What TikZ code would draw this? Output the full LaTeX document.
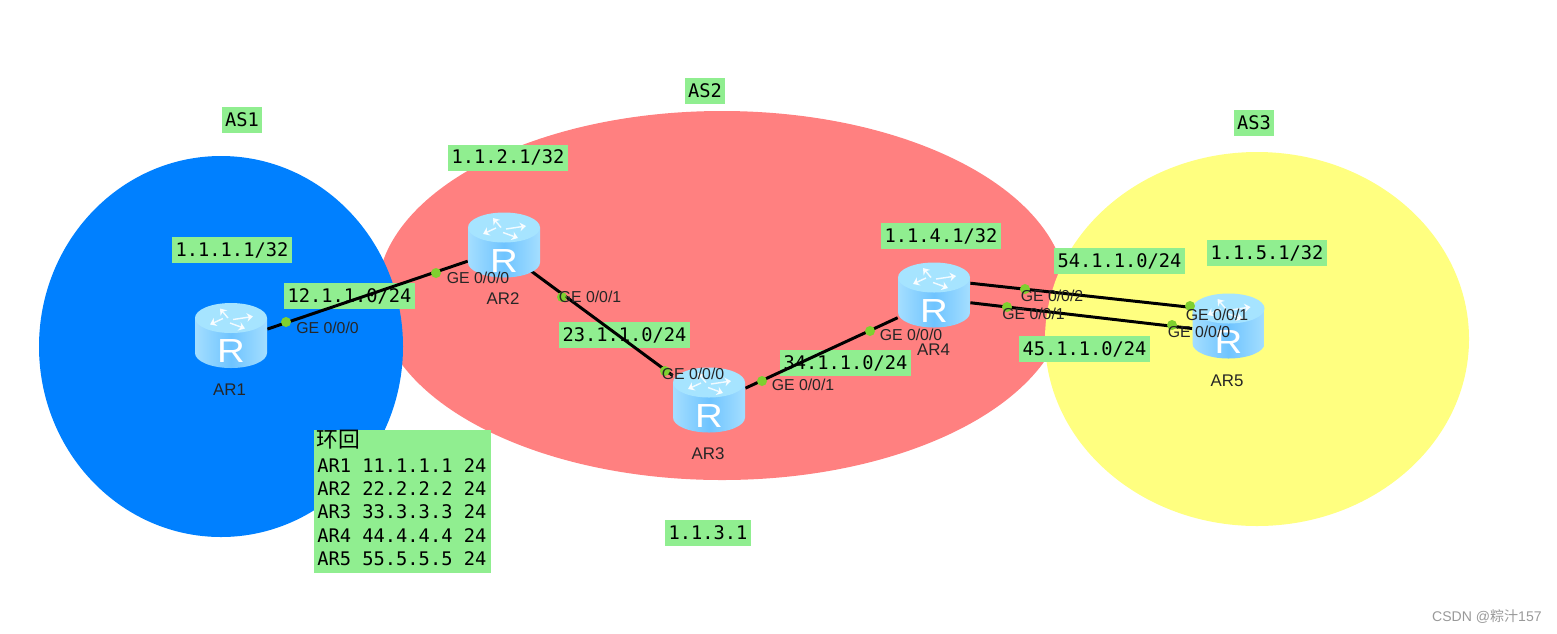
\documentclass[tikz,border=0pt]{standalone}
\usepackage{fontspec}
\setmainfont{Liberation Sans}
\setmonofont{DejaVu Sans Mono}
\newfontfamily\cjk{Noto Sans CJK SC}
\usetikzlibrary{arrows.meta}
\definecolor{labelgreen}{HTML}{90EE90}
\definecolor{dotgreen}{HTML}{7FD02F}
\definecolor{as1blue}{HTML}{0080FF}
\definecolor{as2red}{HTML}{FF8080}
\definecolor{as3yellow}{HTML}{FFFF80}
\definecolor{routertop}{HTML}{A6E4FF}
\definecolor{routerside}{HTML}{6FC4FF}
\definecolor{routerlight}{HTML}{A4DEFF}
\tikzset{
	netlabel/.style={fill=labelgreen, inner sep=0pt, minimum height=26*0.02cm, font=\ttfamily\fontsize{10.65}{10.65}\selectfont},
	portname/.style={inner sep=0pt, text=black!85, font=\fontsize{9}{9}\selectfont},
	routername/.style={inner sep=0pt, text=black!85, font=\fontsize{9.6}{9.6}\selectfont},
	routerbox/.style={inner sep=0pt, minimum width=72*0.02cm, minimum height=65*0.02cm},
	link/.style={line width=1.7pt, black},
	portdot/.style={dotgreen, radius=5},
	routerarrow/.style={white, line width=0.8pt, opacity=0.85, -{Stealth[length=3.5pt,width=5pt]}}
}
\def\drawrouter(#1,#2){
	\begin{scope}[shift={(#1,#2)}]
		\shade[left color=routerlight, right color=routerlight, middle color=routerside] (-36,-17.5) -- (-36,17.5) arc (180:360:36 and -15) -- (36,-17.5) -- cycle;
		\fill[routertop] (0,-17.5) ellipse (36 and 15);
		\draw[routerarrow] (-3,-17.5) -- (-11,-27);
		\draw[routerarrow] (-8,-17) -- (-21,-11);
		\draw[routerarrow] (2,-16) -- (22,-19);
		\draw[routerarrow] (-1,-12.5) -- (14,-7);
		\node[inner sep=0pt, text=white, xscale=1.15, font=\fontsize{19}{19}\selectfont] at (0,16) {R};
	\end{scope}
}

\begin{document}
\begin{tikzpicture}[x=0.02cm, y=-0.02cm]
	\useasboundingbox (0,0) rectangle (1557,633);

	% autonomous systems
	\fill[as2red] (722,295.5) ellipse (345 and 184.5);
	\fill[as1blue] (221,346.5) ellipse (182 and 190.5);
	\fill[as3yellow] (1257,339) ellipse (212 and 187);

	% labels under the links
	\node[netlabel, minimum width=40*0.02cm] (as1) at (242,120) {AS1};
	\node[netlabel, minimum width=40*0.02cm] (as2) at (705,91) {AS2};
	\node[netlabel, minimum width=40*0.02cm] (as3) at (1254,123) {AS3};
	\node[netlabel, minimum width=120*0.02cm] (net112) at (508,157.5) {1.1.2.1/32};
	\node[netlabel, minimum width=120*0.02cm] (net111) at (232,250) {1.1.1.1/32};
	\node[netlabel, minimum width=120*0.02cm] (net114) at (941,236) {1.1.4.1/32};
	\node[netlabel, minimum width=120*0.02cm] (net115) at (1267,253) {1.1.5.1/32};
	\node[netlabel, minimum width=86*0.02cm] (net113) at (708,533) {1.1.3.1};
	\node[netlabel, minimum width=131*0.02cm] (net12) at (349.5,296) {12.1.1.0/24};
	\node[netlabel, minimum width=131*0.02cm] (net23) at (624.5,335) {23.1.1.0/24};
	\node[netlabel, minimum width=131*0.02cm] (net34) at (845.5,363) {34.1.1.0/24};
	\node[netlabel, minimum width=131*0.02cm] (net54) at (1119.5,261) {54.1.1.0/24};
	\node[netlabel, minimum width=131*0.02cm] (net45) at (1084.5,349) {45.1.1.0/24};

	% loopback table
	\fill[labelgreen] (314,430) rectangle (491,573);
	\node[inner sep=0pt, anchor=west, font=\cjk\fontsize{12.4}{12.4}\selectfont] (loophead) at (316,440) {环回};
	\foreach \row/\rowtext in {466/AR1 11.1.1.1 24, 489/AR2 22.2.2.2 24, 512/AR3 33.3.3.3 24, 535.5/AR4 44.4.4.4 24, 558.5/AR5 55.5.5.5 24}
		\node[inner sep=0pt, anchor=west, font=\ttfamily\fontsize{10.65}{10.65}\selectfont] at (317,\row) {\rowtext};

	% routers
	\node[routerbox] (ar1) at (231,335.5) {};
	\node[routerbox] (ar2) at (504,245) {};
	\node[routerbox] (ar3) at (709,400) {};
	\node[routerbox] (ar4) at (934,295) {};
	\node[routerbox] (ar5) at (1228.5,326) {};

	% links
	\draw[link] (ar1.10) -- (ar2.204);
	\draw[link, shorten <=-0.4cm] (ar2.south east) -- (ar3.146);
	\draw[link] (ar3.18) -- (ar4.212.6);
	\draw[link] (ar4.18.4) -- (ar5.153);
	\draw[link] (ar4.-12.5) -- (ar5.184.8);

	\drawrouter(231,335.5)
	\drawrouter(504,245)
	\drawrouter(709,400)
	\drawrouter(934,295)
	\drawrouter(1228.5,326)

	\node[routername] (name1) at (229.5,390) {AR1};
	\node[routername] (name2) at (503,299) {AR2};
	\node[routername] (name3) at (708,454) {AR3};
	\node[routername] (name4) at (933.5,350) {AR4};
	\node[routername] (name5) at (1227,381) {AR5};

	% ports
	\foreach \dotx/\doty in {286/322, 436/273, 562/297, 665/371, 762/381, 870/331, 1025/289, 1007/307, 1190/306, 1172/325}
		\fill[portdot] (\dotx,\doty) circle;

	\node[portname] (p1) at (327.5,328) {GE 0/0/0};
	\node[portname] (p2) at (478,278) {GE 0/0/0};
	\node[portname] (p3) at (590,297) {GE 0/0/1};
	\node[portname] (p4) at (693,374) {GE 0/0/0};
	\node[portname] (p5) at (803,385) {GE 0/0/1};
	\node[portname] (p6) at (911,335) {GE 0/0/0};
	\node[portname] (p7) at (1052,296) {GE 0/0/2};
	\node[portname] (p8) at (1033.5,314) {GE 0/0/1};
	\node[portname] (p9) at (1217,314.5) {GE 0/0/1};
	\node[portname] (p10) at (1199,332) {GE 0/0/0};

	\node[inner sep=0pt, anchor=east, text=black!40, font=\fontsize{8}{8}\selectfont] (mark) at (1542,617) {CSDN @{\cjk 粽汁}157};
\end{tikzpicture}
\end{document}
